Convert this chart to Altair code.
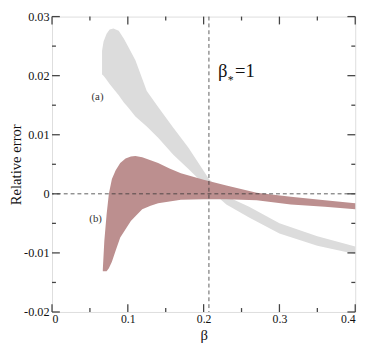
import altair as alt
import pandas as pd

# ---- data ----
# band (a): light gray
a_beta = [0.066, 0.068, 0.072, 0.076, 0.081, 0.088, 0.095, 0.100, 0.110, 0.125,
          0.140, 0.160, 0.180, 0.207, 0.230, 0.260, 0.300, 0.350, 0.400]
a_upper = [0.0242, 0.0258, 0.0271, 0.0278, 0.0280, 0.0276, 0.0262, 0.0250, 0.0226, 0.0174,
           0.0147, 0.0112, 0.0078, 0.0025, -0.0004, -0.0022, -0.0050, -0.0072, -0.0089]
a_lower = [0.0202, 0.0200, 0.0193, 0.0186, 0.0178, 0.0167, 0.0154, 0.0147, 0.0131, 0.0114,
           0.0095, 0.0066, 0.0042, 0.0008, -0.0018, -0.0040, -0.0067, -0.0088, -0.0102]

# band (b): rosy brown
b_beta = [0.067, 0.069, 0.072, 0.075, 0.079, 0.084, 0.090, 0.097, 0.104, 0.110, 0.119,
          0.130, 0.140, 0.155, 0.170, 0.200, 0.230, 0.270, 0.315, 0.360, 0.400]
b_upper = [-0.0128, -0.0080, -0.0035, 0.0000, 0.0025, 0.0040, 0.0052, 0.0060, 0.0063, 0.0064, 0.0062,
           0.0057, 0.0052, 0.0043, 0.0035, 0.0024, 0.0014, 0.0002, -0.0005, -0.0011, -0.0016]
b_lower = [-0.0131, -0.0131, -0.0131, -0.0126, -0.0115, -0.0096, -0.0074, -0.0060, -0.0046, -0.0038, -0.0026,
           -0.0020, -0.0016, -0.0013, -0.0010, -0.0009, -0.0009, -0.0011, -0.0018, -0.0022, -0.0026]

beta_star = 0.207
x_major = [0, 0.1, 0.2, 0.3, 0.4]
x_minor = [0.05, 0.15, 0.25, 0.35]
y_major = [-0.02, -0.01, 0, 0.01, 0.02, 0.03]
y_minor = [-0.015, -0.005, 0.005, 0.015, 0.025]

labels = ["(a)", "(b)"]
label_x = [0.060, 0.0575]
label_y = [0.0163, -0.0042]

# ---- chart ----
W, H = 310, 302
FONT = "Liberation Serif, Times New Roman, serif"
INK = "#444444"

xs = alt.Scale(domain=[0, 0.4], nice=False, zero=False)
ys = alt.Scale(domain=[-0.02, 0.03], nice=False, zero=False)

x_axis = alt.Axis(values=x_major, ticks=False, domain=False, grid=False,
                  labelExpr="'' + round(datum.value*10)/10",
                  labelFont=FONT, labelFontSize=12, labelColor="#111", labelPadding=2,
                  title="β", titleFont=FONT, titleFontSize=15, titleFontWeight="normal",
                  titleColor="#111", titleY=28, titleBaseline="alphabetic")
y_axis = alt.Axis(values=y_major, ticks=False, domain=False, grid=False,
                  labelExpr="'' + round(datum.value*100)/100",
                  labelFont=FONT, labelFontSize=12.5, labelColor="#111", labelPadding=3,
                  title="Relative error", titleFont=FONT, titleFontSize=15,
                  titleFontWeight="normal", titleColor="#111",
                  titleX=-44, titleBaseline="top", titleAngle=270)


def X(field):
    return alt.X(field, type="quantitative", scale=xs, axis=x_axis)


def Y(field):
    return alt.Y(field, type="quantitative", scale=ys, axis=y_axis)


band_a = alt.Chart(pd.DataFrame({"beta": a_beta, "up": a_upper, "lo": a_lower})).mark_area(
    color="#dcdcdc").encode(x=X("beta"), y=Y("up"), y2="lo:Q")

band_b = alt.Chart(pd.DataFrame({"beta": b_beta, "up": b_upper, "lo": b_lower})).mark_area(
    color="#bc8f8f").encode(x=X("beta"), y=Y("up"), y2="lo:Q")

vline = alt.Chart(pd.DataFrame({"b": [beta_star]})).mark_rule(
    color="#333", strokeDash=[4, 3], strokeWidth=0.8).encode(x=X("b"))
hline = alt.Chart(pd.DataFrame({"z": [0]})).mark_rule(
    color="#333", strokeDash=[4, 3], strokeWidth=0.8).encode(y=Y("z"))


def xticks(vals, length):
    df = pd.DataFrame({"t": vals})
    bottom = alt.Chart(df).mark_rule(color=INK, strokeWidth=1.3).encode(
        x=X("t"), y=alt.value(H), y2=alt.value(H - length))
    top = alt.Chart(df).mark_rule(color=INK, strokeWidth=1.3).encode(
        x=X("t"), y=alt.value(0), y2=alt.value(length))
    return [bottom, top]


def yticks(vals, length):
    df = pd.DataFrame({"t": vals})
    left = alt.Chart(df).mark_rule(color=INK, strokeWidth=1.3).encode(
        y=Y("t"), x=alt.value(0), x2=alt.value(length))
    right = alt.Chart(df).mark_rule(color=INK, strokeWidth=1.3).encode(
        y=Y("t"), x=alt.value(W), x2=alt.value(W - length))
    return [left, right]


ticks = xticks(x_major, 8) + xticks(x_minor, 4) + yticks(y_major, 8) + yticks(y_minor, 4)

band_labels = alt.Chart(pd.DataFrame({"x": label_x, "y": label_y, "t": labels})).mark_text(
    font=FONT, fontSize=11, color="#333").encode(x=X("x"), y=Y("y"), text="t:N")

# β*=1 annotation
ann = pd.DataFrame({"x": [0.219], "y": [0.0198], "t": ["β"]})
ann_star = pd.DataFrame({"x": [0.2318], "y": [0.0186], "t": ["*"]})
ann_eq = pd.DataFrame({"x": [0.2413], "y": [0.0198], "t": ["=1"]})


def ann_layer(df, size):
    return alt.Chart(df).mark_text(font=FONT, fontSize=size, color="#111", align="left",
                                   baseline="alphabetic").encode(
        x=X("x"), y=Y("y"), text="t:N")


chart = alt.layer(
    band_a, band_b, vline, hline, *ticks, band_labels,
    ann_layer(ann, 19), ann_layer(ann_star, 12), ann_layer(ann_eq, 19)
).properties(
    width=W, height=H, autosize="none",
    padding={"left": 45, "top": 5, "right": 11, "bottom": 31}
).configure_view(stroke=INK, strokeWidth=1.3).configure(background="white")

chart.save("out.html", embed_options={"renderer": "svg", "actions": False})
